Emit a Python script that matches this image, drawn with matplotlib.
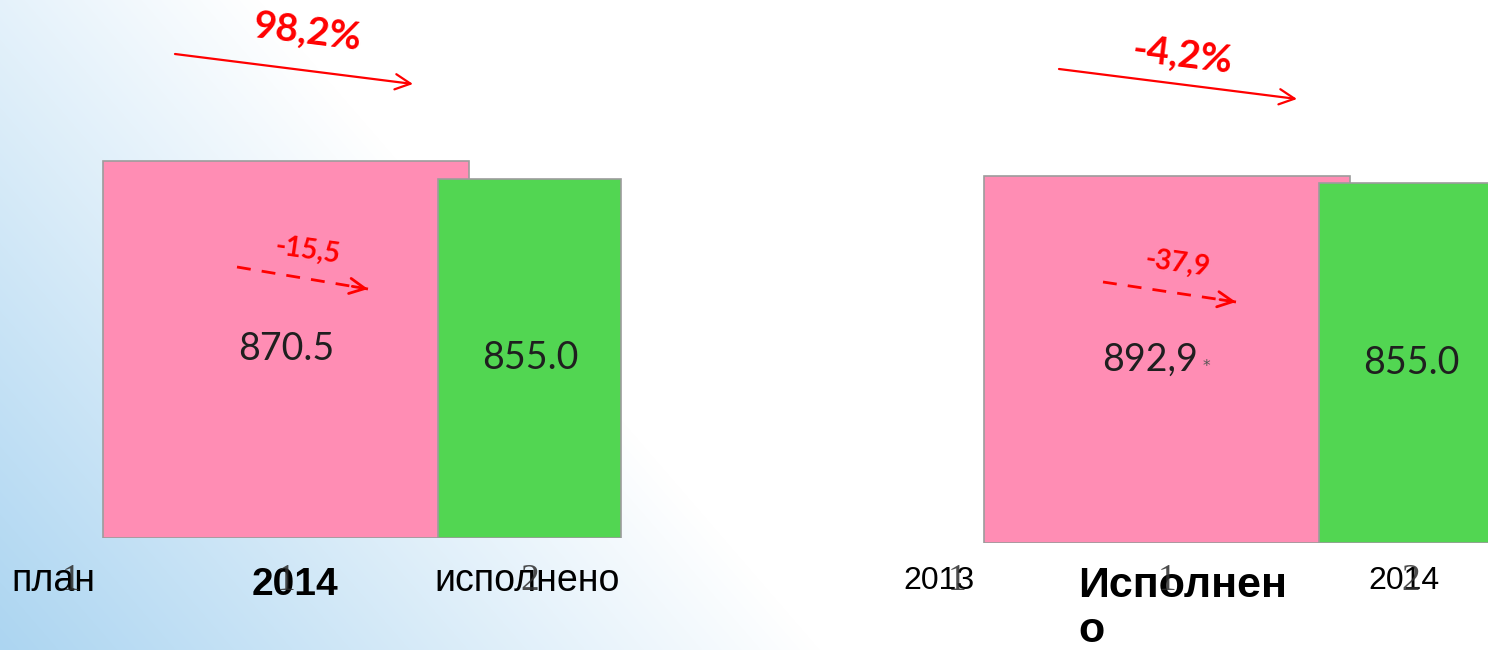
import matplotlib
matplotlib.use("Agg")
import matplotlib.pyplot as plt
import numpy as np

W, H = 1488, 650

# left panel: plan vs execution, 2014
plan_labels = ["план", "2014", "исполнено"]
plan_ticks = ["1", "1", "2"]
plan_values = [870.5, 855.0]
plan_texts = ["870.5", "855.0"]
plan_pct = "98,2%"
plan_diff = "-15,5"

# right panel: 2013 vs 2014
year_labels = ["2013", "Исполнен\nо", "2014"]
year_ticks = ["1", "1", "2"]
year_values = [892.9, 855.0]
year_texts = ["892,9", "855.0"]
year_pct = "-4,2%"
year_diff = "-37,9"

PINK = "#FF8DB4"
GREEN = "#52D652"
RED = "#FF0000"
SANS = "Liberation Sans"

fig = plt.figure(figsize=(W / 100, H / 100), dpi=100)

# background gradient, axes in pixel coordinates
bg = fig.add_axes([0, 0, 1, 1], zorder=-1)
yy, xx = np.mgrid[0:H, 0:W]
t = np.clip(xx / 820 + (H - yy) / 950, 0, 1)[..., None]
blue = np.array([172, 213, 241]) / 255
img = blue * (1 - t) + t
bg.imshow(img, extent=[0, W, H, 0], aspect="auto", interpolation="bilinear")
bg.set_xlim(0, W)
bg.set_ylim(H, 0)
bg.axis("off")


def panel(rect, xlim, ylim, tick_pos, ticks, values, texts, pad):
    ax = fig.add_axes(rect, zorder=1)
    ax.set_facecolor("none")
    base = ylim[0]
    for x, v, w, c, s in zip([1, 2], values, [1.5, 0.75], [PINK, GREEN], texts):
        ax.bar(x, v - base, bottom=base, width=w, color=c,
               edgecolor="#9c9c9c", linewidth=1.2)
        ax.text(x, (base + v) / 2, s, ha="center", va="center",
                fontsize=27, family="Lato", color="#1f1f1f")
    ax.set_xlim(*xlim)
    ax.set_ylim(*ylim)
    ax.set_xticks(tick_pos, ticks)
    ax.tick_params(axis="x", length=0, pad=pad, labelsize=27, labelcolor="#2e2e2e")
    for lbl in ax.get_xticklabels():
        lbl.set_fontfamily("Liberation Serif")
        lbl.set_alpha(0.85)
    ax.set_yticks([])
    for sp in ax.spines.values():
        sp.set_visible(False)
    return ax


axl = panel([5.4 / W, 112 / H, 634.4 / W, 538 / H], (-0.15, 2.45), (546, 1009),
            [0.12, 1, 2], plan_ticks, plan_values, plan_texts, 18)
axr = panel([886.4 / W, 107 / H, 601.7 / W, 543 / H], (-0.15, 2.316), (-1000, 1800),
            [0.14, 1, 2], year_ticks, year_values, year_texts, 15)

# small asterisk next to 892,9
axr.annotate("*", (1, (axr.get_ylim()[0] + year_values[0]) / 2), xytext=(28, -5),
             textcoords="offset points", ha="center", va="center",
             fontsize=11, color="#555555")
axr.texts[0].set_position((0.93, axr.texts[0].get_position()[1]))

# category labels below the bars
bg.text(53, 581, plan_labels[0], ha="center", va="center", fontsize=27, family=SANS)
bg.text(295, 585, plan_labels[1], ha="center", va="center", fontsize=28,
        family=SANS, weight="bold")
bg.text(527, 581, plan_labels[2], ha="center", va="center", fontsize=27, family=SANS)
bg.text(939, 581, year_labels[0], ha="center", va="center", fontsize=23, family=SANS)
bg.text(1078, 566, year_labels[1], ha="left", va="top", fontsize=31,
        family=SANS, weight="bold", linespacing=1.15)
bg.text(1404, 581, year_labels[2], ha="center", va="center", fontsize=23, family=SANS)

# red annotations on top
ov = fig.add_axes([0, 0, 1, 1], zorder=5)
ov.set_facecolor("none")
ov.set_xlim(0, W)
ov.set_ylim(H, 0)
ov.axis("off")


def solid_arrow(p0, p1):
    ov.annotate("", xy=p1, xytext=p0,
                arrowprops=dict(arrowstyle="->,head_length=0.5,head_width=0.25",
                                color=RED, lw=1.6, mutation_scale=22,
                                shrinkA=0, shrinkB=0))


def dashed_arrow(p0, p1):
    ov.plot([p0[0], p1[0]], [p0[1], p1[1]], color=RED, lw=2, dashes=(5, 4))
    q = (p1[0] - 0.12 * (p1[0] - p0[0]), p1[1] - 0.12 * (p1[1] - p0[1]))
    ov.annotate("", xy=p1, xytext=q,
                arrowprops=dict(arrowstyle="->,head_length=0.5,head_width=0.25",
                                color=RED, lw=2, mutation_scale=22,
                                shrinkA=0, shrinkB=0))


big = dict(color=RED, fontsize=28, weight="bold", family="Lato",
           ha="center", va="center", rotation=-7, rotation_mode="anchor")
small = dict(color=RED, fontsize=20, weight="bold", family="Lato",
             ha="center", va="center", rotation=-8, rotation_mode="anchor")

ov.text(307, 32, plan_pct, **big)
solid_arrow((175, 54), (413, 84))
ov.text(307, 251, plan_diff, **small)
dashed_arrow((237, 267), (368, 289))

ov.text(1183, 55, year_pct, **big)
solid_arrow((1059, 69), (1297, 99))
ov.text(1177, 264, year_diff, **small)
dashed_arrow((1103, 282), (1236, 302))

fig.savefig("out.png", dpi=100)
